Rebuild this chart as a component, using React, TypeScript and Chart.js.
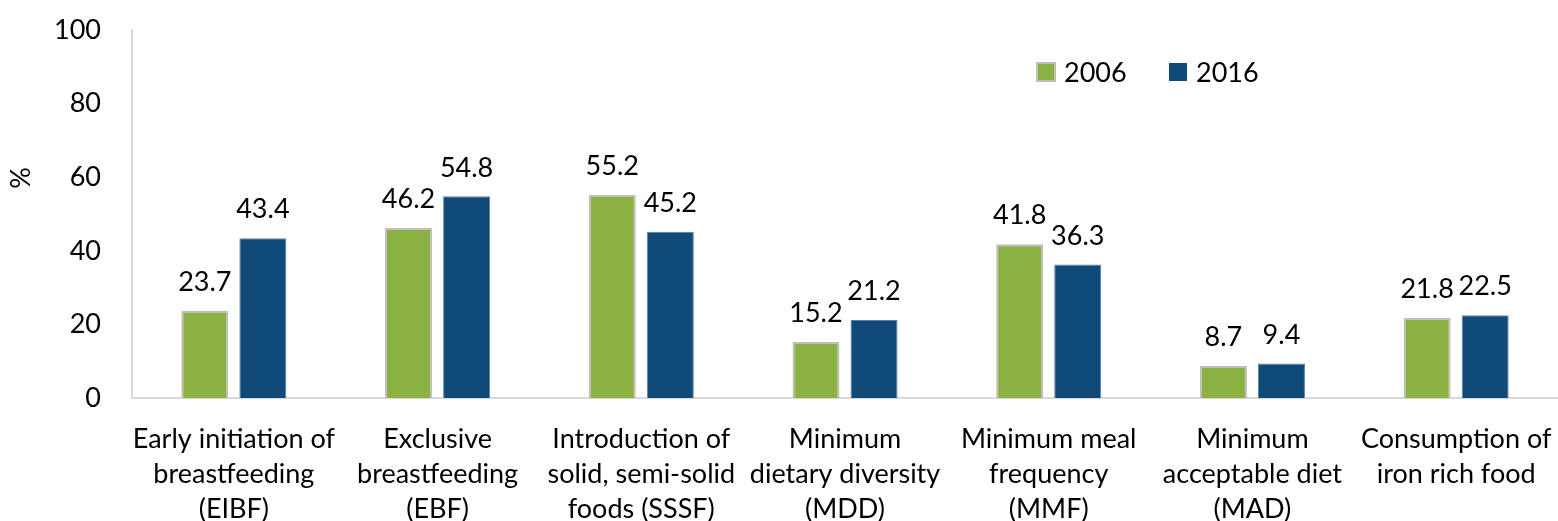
import React, { useEffect, useRef } from "react";
import { Chart, registerables } from "chart.js";

Chart.register(...registerables);

const categories: string[][] = [
  ["Early initiation of", "breastfeeding", "(EIBF)"],
  ["Exclusive", "breastfeeding", "(EBF)"],
  ["Introduction of", "solid, semi-solid", "foods (SSSF)"],
  ["Minimum", "dietary diversity", "(MDD)"],
  ["Minimum meal", "frequency", "(MMF)"],
  ["Minimum", "acceptable diet", "(MAD)"],
  ["Consumption of", "iron rich food"],
];

const values2006 = [23.7, 46.2, 55.2, 15.2, 41.8, 8.7, 21.8];
const values2016 = [43.4, 54.8, 45.2, 21.2, 36.3, 9.4, 22.5];
const seriesLabels = ["2006", "2016"];
const yTicks = [0, 20, 40, 60, 80, 100];

const FONT = "Lato, 'DejaVu Sans', sans-serif";
const FONT_SIZE = 27;
const GREEN = "#8ab142";
const BLUE = "#0f4a78";

// Values written above each bar
const valueLabels = {
  id: "valueLabels",
  afterDatasetsDraw(chart: any) {
    const ctx = chart.ctx;
    ctx.save();
    ctx.font = `${FONT_SIZE}px ${FONT}`;
    ctx.fillStyle = "#000";
    ctx.textAlign = "center";
    ctx.textBaseline = "bottom";
    chart.data.datasets.forEach((ds: any, di: number) => {
      const meta = chart.getDatasetMeta(di);
      meta.data.forEach((bar: any, i: number) => {
        ctx.fillText(ds.data[i].toFixed(1), bar.x, bar.y - 15);
      });
    });
    ctx.restore();
  },
};

// Legend drawn inside the plot area, upper right
const insideLegend = {
  id: "insideLegend",
  afterDraw(chart: any) {
    const ctx = chart.ctx;
    ctx.save();
    ctx.font = `${FONT_SIZE}px ${FONT}`;
    ctx.textBaseline = "middle";
    ctx.textAlign = "left";
    const y = 72;
    const xs = [1037, 1169];
    chart.data.datasets.forEach((ds: any, i: number) => {
      const x = xs[i];
      ctx.fillStyle = ds.backgroundColor;
      ctx.fillRect(x, y - 9, 18, 18);
      if (i === 0) {
        ctx.strokeStyle = ds.borderColor;
        ctx.lineWidth = 2;
        ctx.strokeRect(x, y - 9, 18, 18);
      }
      ctx.fillStyle = "#000";
      ctx.fillText(ds.label, x + 27, y + 1);
    });
    ctx.restore();
  },
};

// Rotated axis title on the left
const yTitle = {
  id: "yTitle",
  afterDraw(chart: any) {
    const ctx = chart.ctx;
    ctx.save();
    ctx.font = `${FONT_SIZE}px ${FONT}`;
    ctx.fillStyle = "#000";
    ctx.translate(21, 178);
    ctx.rotate(-Math.PI / 2);
    ctx.textAlign = "center";
    ctx.textBaseline = "middle";
    ctx.fillText("%", 0, 0);
    ctx.restore();
  },
};

export default function App() {
  const ref = useRef<HTMLCanvasElement | null>(null);

  useEffect(() => {
    if (!ref.current) return;
    const chart = new Chart(ref.current, {
      type: "bar",
      data: {
        labels: categories,
        datasets: [
          {
            label: seriesLabels[0],
            data: values2006,
            backgroundColor: GREEN,
            borderColor: "#bfbfbf",
            borderWidth: 2,
            categoryPercentage: 0.57,
            barPercentage: 0.81,
          },
          {
            label: seriesLabels[1],
            data: values2016,
            backgroundColor: BLUE,
            borderColor: "#5a82a8",
            borderWidth: 1,
            categoryPercentage: 0.57,
            barPercentage: 0.81,
          },
        ],
      },
      options: {
        animation: false,
        responsive: false,
        maintainAspectRatio: false,
        layout: { padding: { top: 30, right: -2, left: 0, bottom: 0 } },
        plugins: {
          legend: { display: false },
          tooltip: { enabled: false },
        },
        scales: {
          x: {
            grid: { display: false },
            border: { display: true, color: "#d9d9d9", width: 2 },
            ticks: {
              color: "#000",
              font: { family: FONT, size: FONT_SIZE, lineHeight: 1.3 },
              maxRotation: 0,
              autoSkip: false,
              padding: 16,
            },
            afterFit(scale: any) {
              scale.height = 123;
              scale.paddingLeft = 0;
              scale.paddingRight = 0;
            },
          },
          y: {
            min: 0,
            max: 100,
            afterBuildTicks(scale: any) {
              scale.ticks = yTicks.map((v) => ({ value: v }));
            },
            grid: { display: false, drawTicks: true, tickLength: 31 },
            border: { display: true, color: "#d9d9d9", width: 2 },
            ticks: {
              color: "#000",
              font: { family: FONT, size: FONT_SIZE },
              padding: 0,
            },
            afterFit(scale: any) {
              scale.width = 132;
              scale.paddingTop = 0;
              scale.paddingBottom = 0;
            },
          },
        },
      },
      plugins: [valueLabels, insideLegend, yTitle],
    });
    return () => chart.destroy();
  }, []);

  return (
    <div style={{ position: "fixed", left: 0, top: 0, width: 1558, height: 521, background: "#fff" }}>
      <canvas ref={ref} width={1558} height={521} style={{ width: 1558, height: 521 }} />
    </div>
  );
}
